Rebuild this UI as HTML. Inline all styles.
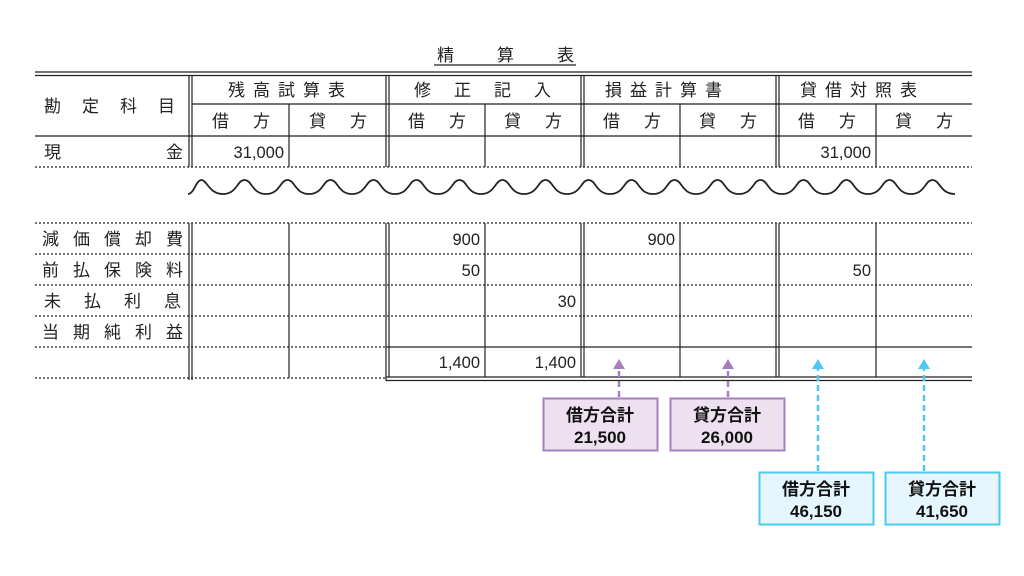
<!DOCTYPE html>
<html><head><meta charset="utf-8"><style>
html,body{margin:0;padding:0;background:#fff;}
svg{display:block}
text{font-family:"Liberation Sans","Noto Sans CJK JP",sans-serif;fill:#222;}
.j{font-size:17px;}
.n{font-size:16.5px;text-anchor:end;}
.b{font-size:17px;font-weight:bold;text-anchor:middle;fill:#111;}
</style></head><body>
<svg width="1024" height="576" viewBox="0 0 1024 576" xmlns="http://www.w3.org/2000/svg">
<text class="j" x="437" y="61">精</text>
<text class="j" x="497" y="61">算</text>
<text class="j" x="557" y="61">表</text>
<line x1="434" y1="65" x2="576" y2="65" stroke="#222" stroke-width="1.2"/>

<g stroke="#222" fill="none">
<line x1="35" y1="72" x2="972" y2="72" stroke-width="1.3"/>
<line x1="35" y1="75.5" x2="972" y2="75.5" stroke-width="1.3"/>
<line x1="192" y1="104" x2="972" y2="104" stroke-width="1.2"/>
<line x1="35" y1="136" x2="972" y2="136" stroke-width="1.2"/>
<g stroke-dasharray="2,2" stroke-width="1.2">
<line x1="35" y1="167" x2="972" y2="167"/>
<line x1="35" y1="223" x2="972" y2="223"/>
<line x1="35" y1="254" x2="972" y2="254"/>
<line x1="35" y1="285" x2="972" y2="285"/>
<line x1="35" y1="316" x2="972" y2="316"/>
<line x1="35" y1="347" x2="386" y2="347"/>
<line x1="35" y1="378" x2="386" y2="378"/>
</g>
<line x1="386" y1="347" x2="972" y2="347" stroke-width="1.2"/>
<line x1="386" y1="377" x2="972" y2="377" stroke-width="1.3"/>
<line x1="386" y1="380.5" x2="972" y2="380.5" stroke-width="1.3"/>
<g stroke-width="1.2">
<line x1="189" y1="75" x2="189" y2="167"/><line x1="192" y1="75" x2="192" y2="167"/>
<line x1="386" y1="75" x2="386" y2="167"/><line x1="389" y1="75" x2="389" y2="167"/>
<line x1="581" y1="75" x2="581" y2="167"/><line x1="584" y1="75" x2="584" y2="167"/>
<line x1="776" y1="75" x2="776" y2="167"/><line x1="779" y1="75" x2="779" y2="167"/>
<line x1="289" y1="104" x2="289" y2="167"/>
<line x1="485" y1="104" x2="485" y2="167"/>
<line x1="680" y1="104" x2="680" y2="167"/>
<line x1="876" y1="104" x2="876" y2="167"/>
<line x1="189" y1="223" x2="189" y2="380"/><line x1="192" y1="223" x2="192" y2="380"/>
<line x1="386" y1="223" x2="386" y2="381"/><line x1="389" y1="223" x2="389" y2="377"/>
<line x1="581" y1="223" x2="581" y2="377"/><line x1="584" y1="223" x2="584" y2="377"/>
<line x1="776" y1="223" x2="776" y2="377"/><line x1="779" y1="223" x2="779" y2="377"/>
<line x1="289" y1="223" x2="289" y2="378"/>
<line x1="485" y1="223" x2="485" y2="377"/>
<line x1="680" y1="223" x2="680" y2="377"/>
<line x1="876" y1="223" x2="876" y2="377"/>
</g>
<path stroke-width="1.8" d="M188,194 C194,194 196,180 201.5,180 S209,194 223,194 S237,180 244.5,180 S252,194 266,194 S280,180 287.5,180 S295,194 309,194 S323,180 330.5,180 S338,194 352,194 S366,180 373.5,180 S381,194 395,194 S409,180 416.5,180 S424,194 438,194 S452,180 459.5,180 S467,194 481,194 S495,180 502.5,180 S510,194 524,194 S538,180 545.5,180 S553,194 567,194 S581,180 588.5,180 S596,194 610,194 S624,180 631.5,180 S639,194 653,194 S667,180 674.5,180 S682,194 696,194 S710,180 717.5,180 S725,194 739,194 S753,180 760.5,180 S768,194 782,194 S796,180 803.5,180 S811,194 825,194 S839,180 846.5,180 S854,194 868,194 S882,180 889.5,180 S897,194 911,194 S925,180 932.5,180 S940,194 955,194"/>
</g>

<text class="j" x="44" y="112" letter-spacing="21">勘定科目</text>
<text class="j" x="228" y="96" letter-spacing="8">残高試算表</text>
<text class="j" x="414" y="96" letter-spacing="23">修正記入</text>
<text class="j" x="605" y="96" letter-spacing="8">損益計算書</text>
<text class="j" x="800" y="96" letter-spacing="8">貸借対照表</text>
<g class="j">
<text x="212" y="127">借</text><text x="253" y="127">方</text>
<text x="309" y="127">貸</text><text x="350" y="127">方</text>
<text x="408" y="127">借</text><text x="449" y="127">方</text>
<text x="504" y="127">貸</text><text x="545" y="127">方</text>
<text x="603" y="127">借</text><text x="644" y="127">方</text>
<text x="699" y="127">貸</text><text x="740" y="127">方</text>
<text x="798" y="127">借</text><text x="839" y="127">方</text>
<text x="895" y="127">貸</text><text x="936" y="127">方</text>
</g>
<text class="j" x="44" y="158">現</text><text class="j" x="166" y="158">金</text>
<text class="j" x="42" y="245" letter-spacing="14">減価償却費</text>
<text class="j" x="42" y="276" letter-spacing="14">前払保険料</text>
<text class="j" x="44" y="307" letter-spacing="23">未払利息</text>
<text class="j" x="42" y="338" letter-spacing="14">当期純利益</text>

<g class="n">
<text x="284" y="158">31,000</text>
<text x="871" y="158">31,000</text>
<text x="480" y="245">900</text>
<text x="675" y="245">900</text>
<text x="480" y="276">50</text>
<text x="871" y="276">50</text>
<text x="576" y="307">30</text>
<text x="480" y="368">1,400</text>
<text x="576" y="368">1,400</text>
</g>

<g stroke-width="2.5" stroke-dasharray="6,4" fill="none">
<line x1="619" y1="397" x2="619" y2="368" stroke="#a57fc0"/>
<line x1="728" y1="397" x2="728" y2="368" stroke="#a57fc0"/>
<line x1="818" y1="471" x2="818" y2="368" stroke="#4dc8f5"/>
<line x1="924" y1="471" x2="924" y2="368" stroke="#4dc8f5"/>
</g>
<polygon points="619,359 613,369 625,369" fill="#a57fc0"/>
<polygon points="728,359 722,369 734,369" fill="#a57fc0"/>
<polygon points="818,359 812,369 824,369" fill="#4dc8f5"/>
<polygon points="924,359 918,369 930,369" fill="#4dc8f5"/>

<rect x="543.5" y="398.5" width="114" height="52" fill="#ede1f0" stroke="#a57fc0" stroke-width="2"/>
<rect x="670.5" y="398.5" width="114" height="52" fill="#ede1f0" stroke="#a57fc0" stroke-width="2"/>
<rect x="759.5" y="472.5" width="114" height="52" fill="#e5f6fe" stroke="#4dc8f5" stroke-width="2"/>
<rect x="885.5" y="472.5" width="114" height="52" fill="#e5f6fe" stroke="#4dc8f5" stroke-width="2"/>
<text class="b" x="600" y="421">借方合計</text><text class="b" x="600" y="443">21,500</text>
<text class="b" x="727" y="421">貸方合計</text><text class="b" x="727" y="443">26,000</text>
<text class="b" x="816" y="495">借方合計</text><text class="b" x="816" y="517">46,150</text>
<text class="b" x="942" y="495">貸方合計</text><text class="b" x="942" y="517">41,650</text>
</svg>
</body></html>
